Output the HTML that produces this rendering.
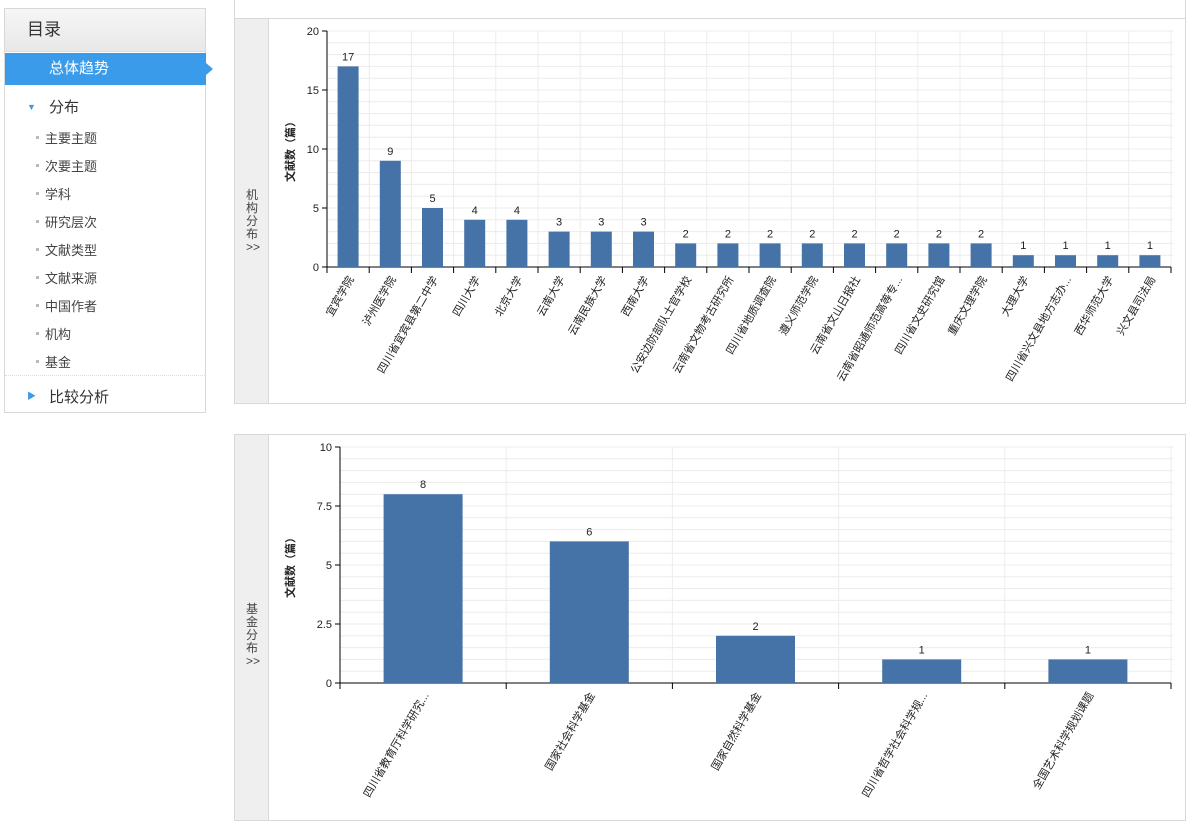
<!DOCTYPE html>
<html><head><meta charset="utf-8"><style>
body{margin:0;width:1191px;height:833px;background:#fff;font-family:"Liberation Sans","Noto Sans CJK SC",sans-serif;position:relative;overflow:hidden}
.side{position:absolute;left:4px;top:8px;width:200px;height:403px;border:1px solid #d8d8d8;background:#fff}
.hd{height:42px;background:linear-gradient(#f6f6f6,#e8e8e8);border-bottom:1px solid #ddd;font-size:17px;color:#333;line-height:42px;padding-left:22px}
.sel{position:absolute;left:0;top:44px;width:201px;height:32px;background:#3a9bea;color:#fff;font-size:15px;line-height:32px;padding-left:44px;box-sizing:border-box}
.sel:after{content:"";position:absolute;right:-7px;top:10px;border-left:7px solid #3a9bea;border-top:6px solid transparent;border-bottom:6px solid transparent}
.grp{position:absolute;left:0;width:200px;font-size:15px;color:#333;padding-left:44px;box-sizing:border-box}
.sub{position:absolute;left:40px;font-size:13px;color:#444}
.sub:before{content:"";position:absolute;left:-9px;top:8px;width:3px;height:3px;background:#bbb}
.panel{position:absolute;left:234px;width:950px;border:1px solid #d8d8d8;background:#fff}
.tab{position:absolute;left:0;top:0;width:33px;height:100%;background:#efefef;border-right:1px solid #d8d8d8;font-size:12px;color:#444;text-align:center}
.tab span{position:absolute;left:11px;width:12px;line-height:13px}
svg{position:absolute;left:0;top:0}
</style></head><body>
<div class="side">
<div class="hd">目录</div>
<div class="sel">总体趋势</div>
<div class="grp" style="top:87px"><span style="position:absolute;left:22px;top:6px;font-size:9px;color:#3a9bea">▼</span>分布</div>
<div class="sub" style="top:119px">主要主题</div>
<div class="sub" style="top:147px">次要主题</div>
<div class="sub" style="top:175px">学科</div>
<div class="sub" style="top:203px">研究层次</div>
<div class="sub" style="top:231px">文献类型</div>
<div class="sub" style="top:259px">文献来源</div>
<div class="sub" style="top:287px">中国作者</div>
<div class="sub" style="top:315px">机构</div>
<div class="sub" style="top:343px">基金</div>
<div style="position:absolute;left:0;top:366px;width:200px;border-top:1px dotted #ddd"></div>
<div class="grp" style="top:377px"><span style="position:absolute;left:22px;top:3px;font-size:9px;color:#3a9bea">▶</span>比较分析</div>
</div>
<div class="panel" style="top:-2px;height:20px;border-top:none"></div>
<div class="panel" style="top:18px;height:384px">
<div class="tab"><span style="top:170px">机构分布<br>&gt;&gt;</span></div>
<svg id="c1" width="950" height="384"></svg>
</div>
<div class="panel" style="top:434px;height:385px">
<div class="tab"><span style="top:168px">基金分布<br>&gt;&gt;</span></div>
<svg id="c2" width="950" height="385"></svg>
</div>
<script>
const cats1=["宜宾学院","泸州医学院","四川省宜宾县第二中学","四川大学","北京大学","云南大学","云南民族大学","西南大学","公安边防部队士官学校","云南省文物考古研究所","四川省地质调查院","遵义师范学院","云南省文山日报社","云南省昭通师范高等专...","四川省文史研究馆","重庆文理学院","大理大学","四川省兴文县地方志办...","西华师范大学","兴文县司法局"];
const vals1=[17,9,5,4,4,3,3,3,2,2,2,2,2,2,2,2,1,1,1,1];
const ticks1=[0,5,10,15,20];
const cats2=["四川省教育厅科学研究...","国家社会科学基金","国家自然科学基金","四川省哲学社会科学规...","全国艺术科学规划课题"];
const vals2=[8,6,2,1,1];
const ticks2=[0,2.5,5,7.5,10];
const NS="http://www.w3.org/2000/svg";
function mk(svg,t,a,txt){const e=document.createElementNS(NS,t);for(const k in a)e.setAttribute(k,a[k]);if(txt!=null)e.textContent=txt;svg.appendChild(e);return e;}
function chart(id,cats,vals,ticks,max,x0,x1,y0,y1,barW,minor){
 const svg=document.getElementById(id);
 const n=cats.length,bw=(x1-x0)/n;
 const ys=v=>y0-(v/max)*(y0-y1);
 for(let v=0;v<=max+1e-9;v+=minor){const l=mk(svg,'line',{x1:x0,x2:x1+2,y1:ys(v),y2:ys(v),stroke:'#ececec'});}
 for(let i=0;i<=n;i++){const l=mk(svg,'line',{x1:x0+i*bw,x2:x0+i*bw,y1:y1,y2:y0,stroke:'#ececec'});}
 mk(svg,'line',{x1:x0,x2:x0,y1:y1,y2:y0,stroke:'#000'});
 mk(svg,'line',{x1:x0,x2:x1,y1:y0,y2:y0,stroke:'#000'});
 ticks.forEach(t=>{mk(svg,'line',{x1:x0-5,x2:x0,y1:ys(t),y2:ys(t),stroke:'#000'});
  const tx=mk(svg,'text',{x:x0-8,y:ys(t)+4,'text-anchor':'end','font-size':11,fill:'#222'},String(t));
  });
 for(let i=0;i<=n;i++)mk(svg,'line',{x1:x0+i*bw,x2:x0+i*bw,y1:y0,y2:y0+6,stroke:'#000'});
 cats.forEach((c,i)=>{const cx=x0+(i+0.5)*bw;
  const r=mk(svg,'rect',{x:cx-barW/2,y:ys(vals[i]),width:barW,height:y0-ys(vals[i]),fill:'#4572a7'});
  
  const v=mk(svg,'text',{x:cx,y:ys(vals[i])-6,'text-anchor':'middle','font-size':11,fill:'#222'},String(vals[i]));
  
  const lb=mk(svg,'text',{x:cx+6,y:y0+12,'text-anchor':'end','font-size':11,fill:'#222',transform:`rotate(-60 ${cx+6} ${y0+12})`},c);
  });
 const yt=mk(svg,'text',{x:0,y:0,'text-anchor':'middle','font-size':11,'font-weight':'bold',fill:'#222',transform:`translate(59 ${(y0+y1)/2}) rotate(-90)`},'文献数（篇）');
 
}
chart('c1',cats1,vals1,ticks1,20,92,936,248,12,21,1);
chart('c2',cats2,vals2,ticks2,10,105,936,248,12,79,0.5);
</script>
</body></html>
